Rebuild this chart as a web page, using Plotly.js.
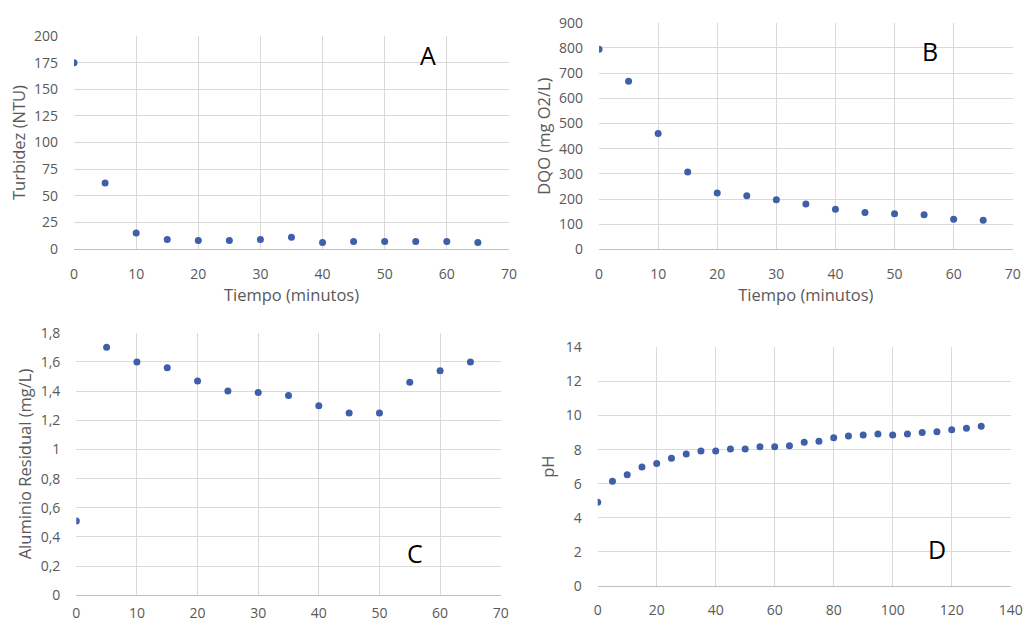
<!DOCTYPE html>
<html><head><meta charset="utf-8">
<script src="https://cdn.plot.ly/plotly-3.0.1.min.js"></script>
<style>html,body{margin:0;padding:0;background:#fff}#c{width:1024px;height:622px}</style>
</head><body><div id="c"></div>
<script>
// Panel A - Turbidez
const tiempoA = [0,5,10,15,20,25,30,35,40,45,50,55,60,65];
const turbidez = [175,62,15,9,8,8,9,11,6,7,7,7,7,6];
// Panel B - DQO
const tiempoB = [0,5,10,15,20,25,30,35,40,45,50,55,60,65];
const dqo = [795,668,460,307,224,213,197,180,159,147,142,138,120,116];
// Panel C - Aluminio residual
const tiempoC = [0,5,10,15,20,25,30,35,40,45,50,55,60,65];
const aluminio = [0.51,1.70,1.60,1.56,1.47,1.40,1.39,1.37,1.30,1.25,1.25,1.46,1.54,1.60];
// Panel D - pH
const tiempoD = [0,5,10,15,20,25,30,35,40,45,50,55,60,65,70,75,80,85,90,95,100,105,110,115,120,125,130];
const ph = [4.91,6.14,6.53,6.98,7.18,7.49,7.74,7.92,7.92,8.04,8.04,8.17,8.17,8.23,8.43,8.49,8.70,8.80,8.86,8.92,8.86,8.92,9.00,9.05,9.17,9.25,9.37];
const panelLetters = ['A','B','C','D'];

const markerColor = '#3f5fa8';
const gridColor = '#d9d9d9';
const tickFont = {family:'Open Sans, sans-serif', size:14, color:'#595959'};
const titleFont = {family:'Open Sans, sans-serif', size:16.5, color:'#595959'};

function tr(x,y,xa,ya){
  return {x:x,y:y,xaxis:xa,yaxis:ya,type:'scatter',mode:'markers',
    marker:{color:markerColor,size:7},showlegend:false,hoverinfo:'x+y'};
}
function xax(dom, range, dtick, title, anchor, standoff){
  const a = {domain:dom, range:range, dtick:dtick, tick0:0, anchor:anchor,
    showgrid:true, gridcolor:gridColor, gridwidth:1, zeroline:false,
    showline:true, linecolor:'#bfbfbf', linewidth:1, ticks:'',
    tickfont:tickFont, ticklabelstandoff:standoff, fixedrange:true, automargin:false};
  if(title) a.title = {text:title, font:titleFont, standoff:6};
  return a;
}
function yax(dom, range, dtick, title, anchor, standoff){
  return {domain:dom, range:range, dtick:dtick, tick0:0, anchor:anchor,
    showgrid:true, gridcolor:gridColor, gridwidth:1, zeroline:false,
    showline:false, ticks:'', tickfont:tickFont, ticklabelstandoff:15,
    fixedrange:true, automargin:false,
    title:{text:title, font:titleFont, standoff:standoff}};
}

const data = [
  tr(tiempoA, turbidez, 'x', 'y'),
  tr(tiempoB, dqo, 'x2', 'y2'),
  tr(tiempoC, aluminio, 'x3', 'y3'),
  tr(tiempoD, ph, 'x4', 'y4')
];

const layout = {
  width:1024, height:622, margin:{l:0,r:0,t:0,b:0},
  paper_bgcolor:'#fff', plot_bgcolor:'#fff', separators:',.',
  xaxis: xax([0.0723,0.497],[0,70],10,'Tiempo (minutos)','y',12),
  yaxis: yax([0.5997,0.942],[0,200],25,'Turbidez (NTU)','x',4),
  xaxis2: xax([0.585,0.989],[0,70],10,'Tiempo (minutos)','y2',12),
  yaxis2: yax([0.599,0.9635],[0,900],100,'DQO (mg O2/L)','x2',4),
  xaxis3: xax([0.0745,0.489],[0,70],10,null,'y3',5),
  yaxis3: yax([0.0429,0.465],[0,1.8],0.2,'Aluminio Residual (mg/L)','x3',4),
  xaxis4: xax([0.5837,0.987],[0,140],20,null,'y4',11),
  yaxis4: yax([0.0579,0.4416],[0,14],2,'pH','x4',6),
  annotations: [
    {text:panelLetters[0], x:428, y:55},
    {text:panelLetters[1], x:930, y:51},
    {text:panelLetters[2], x:415, y:553},
    {text:panelLetters[3], x:937, y:549}
  ].map(a=>({text:a.text, xref:'paper', yref:'paper', x:a.x/1024, y:1-a.y/622,
     xanchor:'center', yanchor:'middle', showarrow:false,
     font:{family:'Open Sans, sans-serif', size:25, color:'#000'}}))
};
Plotly.newPlot('c', data, layout, {displayModeBar:false, staticPlot:true});
</script>
</body></html>
